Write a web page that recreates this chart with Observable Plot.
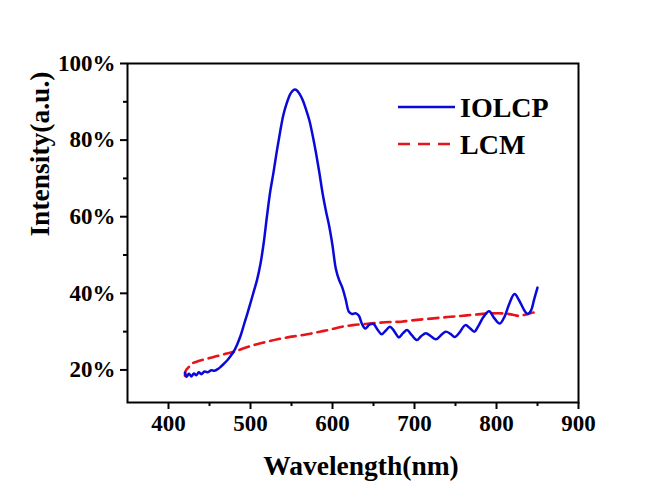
<!DOCTYPE html>
<html>
<head>
<meta charset="utf-8">
<script src="https://cdn.jsdelivr.net/npm/d3@7"></script>
<script src="https://cdn.jsdelivr.net/npm/@observablehq/plot@0.6"></script>
<style>
  html, body { margin: 0; padding: 0; background: #ffffff; }
  #wrap { position: relative; width: 664px; height: 481px; overflow: hidden; font-family: "Liberation Serif", "Times New Roman", serif; }
  #legend { position: absolute; left: 396px; top: 88px; }
</style>
</head>
<body>
<div id="wrap"></div>
<script>
// ---- data ----
const iolcpWavelength = [420,422,425,428,431,434,437,440,444,448,452,456,460,464,468,472,476,480,484,488,492,496,500,504,508,512,516,520,524,528,532,536,540,544,548,551,554,557,560,564,568,572,576,580,584,588,592,596,600,604,608,612,616,620,624,628,632,636,640,645,650,655,660,665,670,675,681,686,691,697,703,708,714,720,726,732,738,744,749,755,762,768,773,778,784,791,797,804,810,816,822,828,834,838,842,846,850];
const iolcpIntensity  = [19.3,18.2,19.0,18.3,19.1,18.6,19.4,18.9,19.6,19.4,19.9,19.8,20.2,20.9,21.7,22.6,23.7,25.0,26.8,29.0,31.8,34.6,37.5,40.5,43.5,47.5,53.0,60.0,66.5,71.5,77.0,82.0,86.5,89.5,91.8,92.8,93.2,92.9,92.0,90.3,87.8,85.0,81.0,76.5,71.5,66.0,61.5,57.5,52.5,46.5,43.5,41.5,38.5,35.2,34.6,34.8,34.2,32.0,30.8,31.8,32.0,30.5,29.3,30.3,31.3,30.2,28.5,29.6,30.4,29.0,27.8,28.8,29.6,28.8,28.0,29.0,30.0,29.4,28.6,29.8,31.7,30.8,30.0,31.5,33.8,35.3,33.6,32.1,34.0,37.5,39.8,38.0,35.5,34.6,35.5,38.5,41.5];

const lcmWavelength = [420,421,425,429,435,441,450,461,471,481,491,501,511,521,533,545,557,569,580,590,600,612,625,640,655,670,684,700,720,740,756,772,788,800,812,820,828,836,846,850];
const lcmIntensity  = [18.5,19.8,20.8,21.7,22.2,22.6,23.1,23.7,24.3,24.8,25.6,26.3,26.9,27.4,28.0,28.5,28.9,29.3,29.8,30.2,30.7,31.3,31.7,32.0,32.3,32.5,32.6,33.0,33.4,33.8,34.1,34.4,34.7,34.8,34.7,34.4,34.1,34.5,35.0,34.9];

const seriesNames  = ["IOLCP", "LCM"];
const xMajorTicks  = [400, 500, 600, 700, 800, 900];
const xMinorTicks  = [450, 550, 650, 750, 850];
const yMajorTicks  = [20, 40, 60, 80, 100];
const yMinorTicks  = [30, 50, 70, 90];
const xTitle = "Wavelength(nm)";
const yTitle = "Intensity(a.u.)";

// ---- build tables ----
const iolcp = iolcpWavelength.map((w, i) => ({w, v: iolcpIntensity[i]}));
const lcm = lcmWavelength.map((w, i) => ({w, v: lcmIntensity[i]}));

const BLUE = "#0a0ad8";
const RED = "#e8141c";
const FONT = "'Liberation Serif', 'Times New Roman', serif";

const chart = Plot.plot({
  width: 664,
  height: 481,
  marginLeft: 127,
  marginRight: 86,
  marginTop: 63,
  marginBottom: 79,
  style: {fontFamily: FONT, background: "#ffffff", color: "#000"},
  x: {domain: [350, 900]},
  y: {domain: [11.5, 100]},
  marks: [
    Plot.line(lcm, {x: "w", y: "v", stroke: RED, strokeWidth: 2.6, strokeDasharray: "10,6", curve: "catmull-rom"}),
    Plot.line(iolcp, {x: "w", y: "v", stroke: BLUE, strokeWidth: 2.5, curve: "catmull-rom"}),
    Plot.frame({stroke: "#000", strokeWidth: 2}),
    Plot.axisX({ticks: xMajorTicks, tickSize: 7, tickPadding: 5, fontSize: 23, fontWeight: "bold", strokeWidth: 2, label: null}),
    Plot.axisX({ticks: xMinorTicks, tickSize: 4, tickFormat: () => "", strokeWidth: 2, label: null}),
    Plot.axisY({ticks: yMajorTicks, tickSize: 7, tickPadding: 5, tickFormat: d => d + "%", fontSize: 23, fontWeight: "bold", strokeWidth: 2, label: null}),
    Plot.axisY({ticks: yMinorTicks, tickSize: 4, tickFormat: () => "", strokeWidth: 2, label: null}),
    Plot.text([xTitle], {text: d => d, frameAnchor: "bottom", lineAnchor: "middle", dx: 8, dy: 63.5, fontSize: 27.5, fontWeight: "bold", fill: "#000"}),
    Plot.text([yTitle], {text: d => d, frameAnchor: "left", lineAnchor: "middle", rotate: -90, dx: -87.6, dy: 3.6, fontSize: 27.5, fontWeight: "bold", fill: "#000"})
  ]
});

const wrap = document.getElementById("wrap");
wrap.appendChild(chart);

// ---- legend (inside the plot, top right) ----
const ns = "http://www.w3.org/2000/svg";
const leg = document.createElementNS(ns, "svg");
leg.setAttribute("id", "legend");
leg.setAttribute("width", "175");
leg.setAttribute("height", "75");
const styles = [{stroke: BLUE, dash: null}, {stroke: RED, dash: "12,8"}];
seriesNames.forEach((name, i) => {
  const cy = 19 + i * 37;
  const ln = document.createElementNS(ns, "line");
  ln.setAttribute("x1", 2); ln.setAttribute("x2", 59);
  ln.setAttribute("y1", cy); ln.setAttribute("y2", cy);
  ln.setAttribute("stroke", styles[i].stroke);
  ln.setAttribute("stroke-width", 2.6);
  if (styles[i].dash) ln.setAttribute("stroke-dasharray", styles[i].dash);
  leg.appendChild(ln);
  const t = document.createElementNS(ns, "text");
  t.setAttribute("x", 64);
  t.setAttribute("y", cy + 10);
  t.setAttribute("font-family", FONT);
  t.setAttribute("font-weight", "bold");
  t.setAttribute("font-size", "28");
  t.setAttribute("fill", "#000");
  t.textContent = name;
  leg.appendChild(t);
});
wrap.appendChild(leg);
</script>
</body>
</html>
